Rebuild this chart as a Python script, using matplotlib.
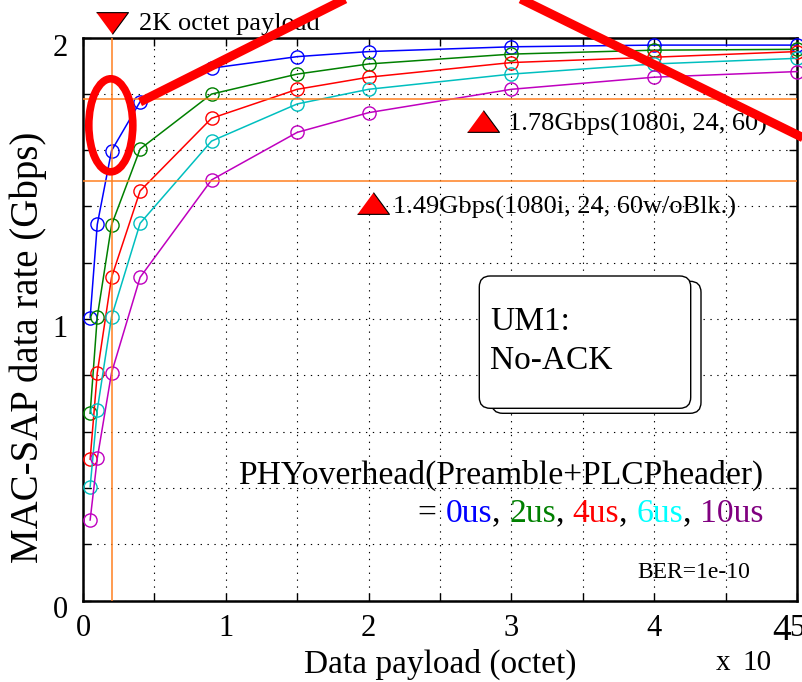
import matplotlib
matplotlib.use("Agg")
import matplotlib.pyplot as plt
from matplotlib.patches import Ellipse, FancyBboxPatch
from matplotlib.lines import Line2D
from matplotlib.transforms import ScaledTranslation
import numpy as np

# ─── Data ─────────────────────────────────────────────────────────────────────
payload = [500, 1000, 2000, 4000, 9000, 15000, 20000, 30000, 40000, 50000]
rate_0us = [1.005, 1.336, 1.598, 1.772, 1.891, 1.932, 1.950, 1.967, 1.973, 1.973]
rate_2us = [0.665, 1.008, 1.334, 1.604, 1.799, 1.870, 1.906, 1.941, 1.955, 1.958]
rate_4us = [0.502, 0.809, 1.148, 1.455, 1.713, 1.816, 1.859, 1.911, 1.930, 1.950]
rate_6us = [0.404, 0.677, 1.008, 1.340, 1.632, 1.764, 1.816, 1.870, 1.906, 1.926]
rate_10us = [0.286, 0.505, 0.809, 1.148, 1.494, 1.663, 1.733, 1.816, 1.859, 1.879]

series_labels = ["0us", "2us", "4us", "6us", "10us"]
line_colors = ["#0000ff", "#008000", "#ff0000", "#00bfbf", "#bf00bf"]
text_colors = ["#0000ff", "#008000", "#ff0000", "#00ffff", "#800080"]

payload_2k = 2000
rate_178 = 1.78
rate_149 = 1.49

x_tick_labels = ["0", "1", "2", "3", "4", "5"]
y_tick_labels = ["0", "1", "2"]

ORANGE = "#ff8020"

plt.rcParams["font.family"] = ["Liberation Serif", "DejaVu Serif"]

fig = plt.figure(figsize=(8.02, 6.82), dpi=100)
ax = fig.add_axes([83 / 802, 81.5 / 682, 714 / 802, 563 / 682])

# ─── Curves ───────────────────────────────────────────────────────────────────
all_rates = [rate_0us, rate_2us, rate_4us, rate_6us, rate_10us]
for rates, col in zip(all_rates, line_colors):
    ax.plot(payload, rates, "-o", color=col, lw=1.1, ms=9.5, mfc="none",
            mew=1.0, clip_on=False, zorder=3)

# reference lines
ax.axvline(payload_2k, color=ORANGE, lw=1.1, zorder=4)
ax.axhline(rate_178, color=ORANGE, lw=1.1, zorder=4)
ax.axhline(rate_149, color=ORANGE, lw=1.1, zorder=4)

# ─── Axes styling (MATLAB look) ───────────────────────────────────────────────
ax.set_xlim(0, 50000)
ax.set_ylim(0, 2)
ax.set_xticks(np.arange(0, 50001, 5000))
ax.set_yticks(np.arange(0, 2.001, 0.2))
ax.set_xticklabels([x_tick_labels[i // 2] if i % 2 == 0 else "" for i in range(11)])
ax.set_yticklabels([y_tick_labels[i // 5] if i % 5 == 0 else "" for i in range(11)])
ax.tick_params(direction="in", length=6, width=1.0, top=True, right=True,
               labelsize=22, colors="black")
ax.tick_params(axis="x", pad=10)
ax.tick_params(axis="y", pad=11)
for lab in ax.get_yticklabels():
    lab.set_transform(lab.get_transform() + ScaledTranslation(0, -0.07, fig.dpi_scale_trans))
for sp in ax.spines.values():
    sp.set_linewidth(1.8)
ax.grid(True, color="black", lw=0.8, ls=(0, (1.2, 5)))
ax.set_axisbelow(True)

ax.set_xlabel("Data payload (octet)", fontsize=24, va="baseline")
ax.xaxis.set_label_coords(0.5, -0.1288)
ax.set_ylabel("MAC-SAP data rate (Gbps)", fontsize=28, va="center")
ax.yaxis.set_label_coords(-0.077, 0.45)

fig.text(716 / 802, 1 - 670 / 682, "x", fontsize=21, va="baseline")
fig.text(742 / 802, 1 - 670 / 682, "10", fontsize=21, va="baseline")
fig.text(772 / 802, 1 - 640 / 682, "4", fontsize=27, va="baseline")

# ─── Annotations ──────────────────────────────────────────────────────────────
tri_up = [(-1, -0.68), (1, -0.68), (0, 0.68)]
tri_dn = [(-1, 0.68), (1, 0.68), (0, -0.68)]

ax.plot([payload_2k], [2.053], marker=tri_dn, ms=23, color="red", mec="black",
        mew=0.8, clip_on=False, zorder=6)
ax.text(3922, 2.027, "2K octet payload", fontsize=19, va="baseline",
        clip_on=False)

ax.plot([28011], [1.705], marker=tri_up, ms=23, color="red", mec="black",
        mew=0.8, zorder=6)
ax.text(29762, 1.668, "1.78Gbps(1080i, 24, 60)", fontsize=19, va="baseline")

ax.plot([20308], [1.412], marker=tri_up, ms=23, color="red", mec="black",
        mew=0.8, zorder=6)
ax.text(21709, 1.3755, "1.49Gbps(1080i, 24, 60w/oBlk.)", fontsize=19,
        va="baseline")

# text box with shadow (pixel positions converted to inches)
H = 6.82
shadow = FancyBboxPatch((4.917, H - 4.133), 2.093, 1.32,
                        boxstyle="round,pad=0,rounding_size=0.11",
                        transform=fig.dpi_scale_trans, fc="white", ec="black",
                        lw=1.0, zorder=7)
box = FancyBboxPatch((4.793, H - 4.083), 2.114, 1.323,
                     boxstyle="round,pad=0,rounding_size=0.11",
                     transform=fig.dpi_scale_trans, fc="white", ec="black",
                     lw=1.0, zorder=8)
for p in (shadow, box):
    ax.add_patch(p)
    p.set_clip_on(False)
ax.text(28501, 0.960, "UM1:", fontsize=24, va="baseline", zorder=9)
ax.text(28501, 0.821, "No-ACK", fontsize=24, va="baseline", zorder=9)

ax.text(47650, 0.416, "PHYoverhead(Preamble+PLCPheader)", fontsize=24.2,
        ha="right", va="baseline")

# coloured second line, built right to left
pieces = [("= ", "black")]
for i, (lab, col) in enumerate(zip(series_labels, text_colors)):
    pieces.append((lab, col))
    if i < len(series_labels) - 1:
        pieces.append((", ", "black"))
prev = ax.text(47650, 0.280, pieces[-1][0], color=pieces[-1][1],
               fontsize=24.2, ha="right", va="baseline")
for s, col in reversed(pieces[:-1]):
    prev = ax.annotate(s, xy=(0, 0), xycoords=prev, color=col, fontsize=24.2,
                       ha="right", va="bottom")

ax.text(46709, 0.080, "BER=1e-10", fontsize=17, ha="right", va="baseline")

# red hand-drawn highlights
ell = Ellipse((1.108, H - 1.253), 0.44, 0.93, transform=fig.dpi_scale_trans,
              fill=False, ec="red", lw=5.5, zorder=10)
fig.add_artist(ell)
vline = Line2D([1.40, 4.32, 8.30], [H - 1.02, H + 0.446, H - 1.51],
               transform=fig.dpi_scale_trans, color="red", lw=6.5,
               solid_capstyle="butt", solid_joinstyle="miter", zorder=10)
fig.add_artist(vline)

fig.savefig("out.png", dpi=100)
